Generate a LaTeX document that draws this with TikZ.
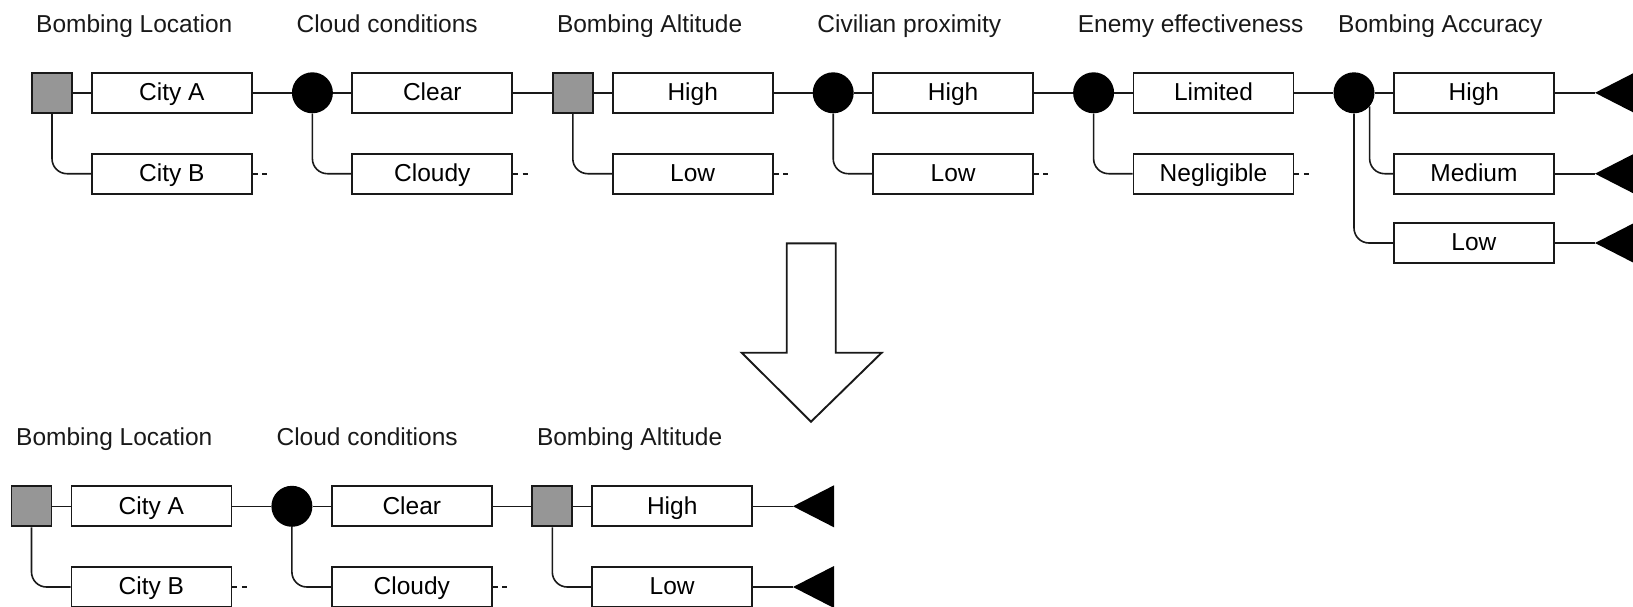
\documentclass[tikz,border=0pt]{standalone}
\usepackage{fontspec}
\setmainfont{Liberation Sans}
\definecolor{sqgray}{RGB}{150,150,150}
\definecolor{ink}{RGB}{25,25,25}
\tikzset{
  ln/.style={draw=ink, line width=1.6pt},
  opt/.style={draw=ink, line width=1.7pt, fill=white, minimum width=160pt, minimum height=40pt, inner sep=0pt, text height=17.5pt, text depth=2pt, font=\fontsize{24.5}{29}\selectfont},
  sq/.style={draw=ink, line width=1.9pt, fill=sqgray, minimum width=40pt, minimum height=40pt, inner sep=0pt},
  dot/.style={circle, fill=black, minimum size=41pt, inner sep=0pt},
  ttl/.style={anchor=base west, inner sep=0pt, text=ink, font=\fontsize{24.5}{29}\selectfont},
  more/.style={draw=ink, line width=1.7pt, dash pattern=on 5pt off 4.5pt},
  br/.style={ln, rounded corners=15pt},
  tip/.style={fill=black}
}
\begin{document}
\begin{tikzpicture}[x=1pt,y=-1pt]
\useasboundingbox (0,0) rectangle (1633,606);
% ---------- top titles
\node[ttl] (t1) at (36,32.3) {Bombing Location};
\node[ttl] (t2) at (296.4,32.3) {Cloud conditions};
\node[ttl] (t3) at (556.8,32.3) {Bombing Altitude};
\node[ttl] (t4) at (817.2,32.3) {Civilian proximity};
\node[ttl] (t5) at (1077.6,32.3) {Enemy effectiveness};
\node[ttl] (t6) at (1338,32.3) {Bombing Accuracy};
% ---------- top elements
\node[sq]  (a1) at (52,92.8) {};
\node[opt] (a1x) at (171.9,92.8) {City A};
\node[opt] (a1y) at (171.9,173.7) {City B};
\node[dot] (a2) at (312.4,92.8) {};
\node[opt] (a2x) at (432.3,92.8) {Clear};
\node[opt] (a2y) at (432.3,173.7) {Cloudy};
\node[sq]  (a3) at (572.8,92.8) {};
\node[opt] (a3x) at (692.7,92.8) {High};
\node[opt] (a3y) at (692.7,173.7) {Low};
\node[dot] (a4) at (833.2,92.8) {};
\node[opt] (a4x) at (953.1,92.8) {High};
\node[opt] (a4y) at (953.1,173.7) {Low};
\node[dot] (a5) at (1093.6,92.8) {};
\node[opt] (a5x) at (1213.5,92.8) {Limited};
\node[opt] (a5y) at (1213.5,173.7) {Negligible};
\node[dot] (a6) at (1354,92.8) {};
\node[opt] (a6x) at (1473.9,92.8) {High};
\node[opt] (a6y) at (1473.9,173.7) {Medium};
\node[opt] (a6z) at (1473.9,243) {Low};
\coordinate (e1) at (1595,92.8);
\coordinate (e2) at (1595,173.7);
\coordinate (e3) at (1595,243);
\fill[tip] (e1) -- ++(41,-21) -- ++(0,42) -- cycle;
\fill[tip] (e2) -- ++(41,-21) -- ++(0,42) -- cycle;
\fill[tip] (e3) -- ++(41,-21) -- ++(0,42) -- cycle;
% ---------- top connectors
\draw[ln] (a1) -- (a1x);
\draw[ln] (a1x) -- (a2);
\draw[ln] (a2) -- (a2x);
\draw[ln] (a2x) -- (a3);
\draw[ln] (a3) -- (a3x);
\draw[ln] (a3x) -- (a4);
\draw[ln] (a4) -- (a4x);
\draw[ln] (a4x) -- (a5);
\draw[ln] (a5) -- (a5x);
\draw[ln] (a5x) -- (a6);
\draw[ln] (a6) -- (a6x);
\draw[ln] (a6x) -- (e1);
\draw[ln] (a6y) -- (e2);
\draw[ln] (a6z) -- (e3);
\draw[br] (a1.south) |- (a1y.west);
\draw[br] (a2.south) |- (a2y.west);
\draw[br] (a3.south) |- (a3y.west);
\draw[br] (a4.south) |- (a4y.west);
\draw[br] (a5.south) |- (a5y.west);
\draw[br] (a6.-41) |- (a6y.west);
\draw[br] (a6.south) |- (a6z.west);
\draw[more] (a1y.east) -- ++(18,0);
\draw[more] (a2y.east) -- ++(18,0);
\draw[more] (a3y.east) -- ++(18,0);
\draw[more] (a4y.east) -- ++(18,0);
\draw[more] (a5y.east) -- ++(18,0);
% ---------- big arrow
\draw[ink, line width=1.9pt, fill=white, line join=miter]
  (786.7,243.3) -- (835.7,243.3) -- (835.7,352.7) -- (881.7,352.7)
  -- (811,421.7) -- (741.7,352.7) -- (786.7,352.7) -- cycle;
% ---------- bottom titles
\node[ttl] (u1) at (16,445.7) {Bombing Location};
\node[ttl] (u2) at (276.4,445.7) {Cloud conditions};
\node[ttl] (u3) at (536.8,445.7) {Bombing Altitude};
% ---------- bottom elements
\node[sq]  (b1) at (31.5,506.3) {};
\node[opt] (b1x) at (151.4,506.3) {City A};
\node[opt] (b1y) at (151.4,587) {City B};
\node[dot] (b2) at (291.9,506.3) {};
\node[opt] (b2x) at (411.8,506.3) {Clear};
\node[opt] (b2y) at (411.8,587) {Cloudy};
\node[sq]  (b3) at (552.3,506.3) {};
\node[opt] (b3x) at (672.2,506.3) {High};
\node[opt] (b3y) at (672.2,587) {Low};
\coordinate (f1) at (793,506.3);
\coordinate (f2) at (793,587);
\fill[tip] (f1) -- ++(41,-21) -- ++(0,42) -- cycle;
\fill[tip] (f2) -- ++(41,-21) -- ++(0,42) -- cycle;
% ---------- bottom connectors
\draw[ln] (b1) -- (b1x);
\draw[ln] (b1x) -- (b2);
\draw[ln] (b2) -- (b2x);
\draw[ln] (b2x) -- (b3);
\draw[ln] (b3) -- (b3x);
\draw[ln] (b3x) -- (f1);
\draw[ln] (b3y) -- (f2);
\draw[br] (b1.south) |- (b1y.west);
\draw[br] (b2.south) |- (b2y.west);
\draw[br] (b3.south) |- (b3y.west);
\draw[more] (b1y.east) -- ++(18,0);
\draw[more] (b2y.east) -- ++(18,0);
\end{tikzpicture}
\end{document}
